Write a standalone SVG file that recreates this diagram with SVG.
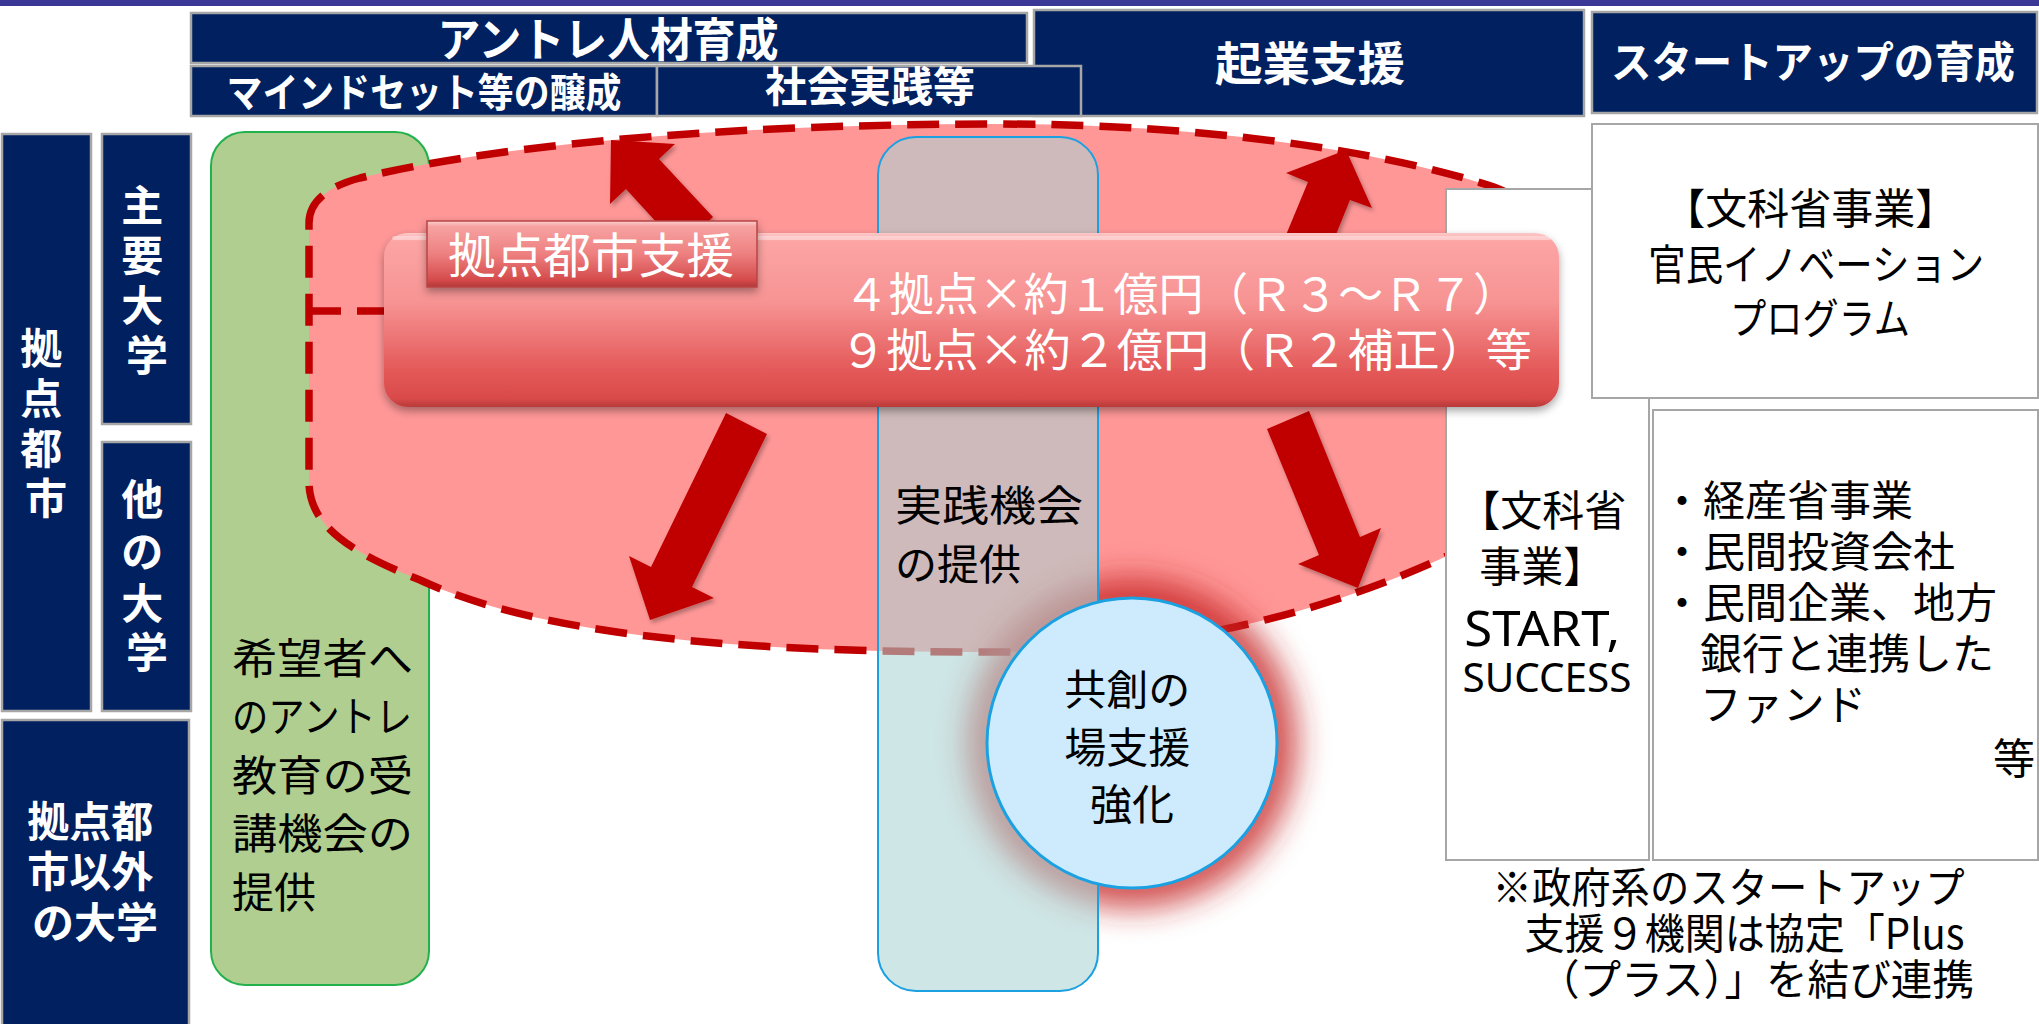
<svg xmlns="http://www.w3.org/2000/svg" width="2039" height="1024" viewBox="0 0 2039 1024">
<style>
.hdr{fill:#002060;stroke:#a6a6a6;stroke-width:2.5}
.ht{fill:#fff;font-family:"Noto Sans CJK JP","Noto Sans CJK SC",sans-serif;font-weight:700;text-anchor:middle}
.st{fill:#fff;font-family:"Noto Sans CJK JP","Noto Sans CJK SC",sans-serif;font-weight:700;font-size:42px;text-anchor:middle}
.box{fill:#fff;stroke:#a6a6a6;stroke-width:2}
.bt{fill:#000;font-family:"Noto Sans CJK JP","Noto Sans CJK SC",sans-serif;font-size:42px}
.wt{fill:#fff;font-family:"Noto Sans CJK JP","Noto Sans CJK SC",sans-serif}
.lat{font-family:"Noto Sans","Liberation Sans",sans-serif}
.arrow{fill:#c00000}
.dash{fill:none;stroke:#c00000;stroke-width:7.5;stroke-dasharray:32 16}
</style>
<defs>
<linearGradient id="mainGrad" x1="0" y1="0" x2="0" y2="1">
<stop offset="0" stop-color="#fdc8c8"/>
<stop offset="0.05" stop-color="#fca4a4"/>
<stop offset="0.4" stop-color="#f79393"/>
<stop offset="0.78" stop-color="#e45a5a"/>
<stop offset="0.95" stop-color="#da4a4a"/>
<stop offset="1" stop-color="#b83a3a"/>
</linearGradient>
<linearGradient id="labelGrad" x1="0" y1="0" x2="0" y2="1">
<stop offset="0" stop-color="#fcd0d0"/>
<stop offset="0.08" stop-color="#f7a2a2"/>
<stop offset="0.5" stop-color="#ee8080"/>
<stop offset="0.9" stop-color="#d44a4a"/>
<stop offset="1" stop-color="#b33838"/>
</linearGradient>
<filter id="glow" x="-50%" y="-50%" width="200%" height="200%">
<feGaussianBlur stdDeviation="15"/>
</filter>
<filter id="shadow" x="-10%" y="-20%" width="120%" height="150%">
<feDropShadow dx="0" dy="4" stdDeviation="4" flood-color="#000" flood-opacity="0.35"/>
</filter>
<filter id="ashadow" x="-20%" y="-20%" width="140%" height="140%">
<feDropShadow dx="2" dy="3" stdDeviation="2" flood-color="#000" flood-opacity="0.3"/>
</filter>
</defs>

<rect x="0" y="0" width="2039" height="1024" fill="#fff"/>
<rect id="topbar" x="0" y="0" width="2039" height="6" fill="#3a3797"/>

<g id="green-box">
<rect x="211" y="132" width="218" height="853" rx="34" fill="#b0ce8f" stroke="#22b14c" stroke-width="2"/>
<text class="bt" font-size="45">
<tspan x="232" y="674" textLength="181" lengthAdjust="spacingAndGlyphs">希望者へ</tspan>
<tspan x="232" y="732" textLength="180" lengthAdjust="spacingAndGlyphs">のアントレ</tspan>
<tspan x="232" y="791" textLength="181" lengthAdjust="spacingAndGlyphs">教育の受</tspan>
<tspan x="232" y="849" textLength="181" lengthAdjust="spacingAndGlyphs">講機会の</tspan>
<tspan x="232" y="908">提供</tspan>
</text>
</g>

<g id="hub-area">
<path d="M309,223 C309,200 330,186 360,178 C520,140 760,124 1000,124 C1200,124 1380,150 1494,187 C1560,210 1600,300 1560,400 C1520,500 1480,540 1447,556 C1330,610 1180,652 1000,652 C800,652 560,645 420,580 C360,556 309,530 309,482 Z" fill="#ff9797"/>
<path class="dash" d="M309,223 C309,200 330,186 360,178 C520,140 760,124 1000,124 C1200,124 1380,150 1494,187 C1560,210 1600,300 1560,400 C1520,500 1480,540 1447,556 C1330,610 1180,652 1000,652 C800,652 560,645 420,580 C360,556 309,530 309,482 Z"/>
</g>

<circle id="glow-ring" cx="1132" cy="743" r="166" fill="#c62828" fill-opacity="0.78" filter="url(#glow)"/>

<g id="practice-column">
<rect x="878" y="137" width="220" height="854" rx="38" fill="#abd4d4" fill-opacity="0.58" stroke="#1ba1e2" stroke-width="2"/>
<text class="bt" font-size="46">
<tspan x="895" y="521" textLength="188" lengthAdjust="spacingAndGlyphs">実践機会</tspan>
<tspan x="895" y="580">の提供</tspan>
</text>
</g>

<g id="connectors">
<line class="dash" x1="309" y1="311" x2="386" y2="311" stroke-width="6"/>
<polygon class="arrow" filter="url(#ashadow)" points="611,140 675,144 659,159 713,217 680,248 626,189 610,204"/>
<polygon class="arrow" filter="url(#ashadow)" points="1346,150 1372,208 1350,200 1324,264 1281,247 1308,182 1286,173"/>
<polygon class="arrow" filter="url(#ashadow)" points="650,620 629,556 651,567 726,413 767,434 692,587 714,598"/>
<polygon class="arrow" filter="url(#ashadow)" points="1358,588 1298,564 1319,555 1267,429 1309,411 1360,537 1381,528"/>
</g>

<g id="start-box">
<rect class="box" x="1446" y="189" width="203" height="671"/>
<text class="bt" text-anchor="middle">
<tspan x="1547" y="526">【文科省</tspan>
<tspan x="1547" y="582">事業】</tspan>
<tspan class="lat" x="1547" y="646" font-size="50" textLength="156" lengthAdjust="spacingAndGlyphs">START,</tspan>
<tspan class="lat" x="1547" y="692" font-size="40" textLength="169" lengthAdjust="spacingAndGlyphs">SUCCESS</tspan>
</text>
</g>

<g id="kanmin-box">
<rect class="box" x="1592" y="124" width="446" height="274"/>
<text class="bt" text-anchor="middle">
<tspan x="1815" y="224" textLength="294" lengthAdjust="spacingAndGlyphs">【文科省事業】</tspan>
<tspan x="1821" y="280" textLength="336" lengthAdjust="spacingAndGlyphs">官民イノベーション</tspan>
<tspan x="1820" y="334" textLength="180" lengthAdjust="spacingAndGlyphs">プログラム</tspan>
</text>
</g>

<g id="private-box">
<rect class="box" x="1653" y="410" width="385" height="450"/>
<text class="bt">
<tspan x="1661" y="516">・経産省事業</tspan>
<tspan x="1661" y="567">・民間投資会社</tspan>
<tspan x="1661" y="618">・民間企業、地方</tspan>
<tspan x="1700" y="669">銀行と連携した</tspan>
<tspan x="1700" y="720" textLength="166" lengthAdjust="spacingAndGlyphs">ファンド</tspan>
<tspan x="1993" y="774">等</tspan>
</text>
</g>

<g id="hub-support">
<rect x="384" y="233" width="1175" height="174" rx="24" fill="url(#mainGrad)" filter="url(#shadow)"/>
<rect x="392" y="236" width="1159" height="4" rx="2" fill="#fff" fill-opacity="0.35"/>
<text class="wt" font-size="45" text-anchor="end">
<tspan x="1528" y="311" textLength="674" lengthAdjust="spacingAndGlyphs">４拠点×約１億円（Ｒ３～Ｒ７）</tspan>
<tspan x="1532" y="367" textLength="692" lengthAdjust="spacingAndGlyphs">９拠点×約２億円（Ｒ２補正）等</tspan>
</text>
</g>

<g id="hub-label">
<rect x="427" y="221" width="330" height="66" fill="url(#labelGrad)" stroke="#b84444" stroke-width="1.5" filter="url(#shadow)"/>
<text class="wt" font-size="48" x="591" y="273" text-anchor="middle" textLength="286" lengthAdjust="spacingAndGlyphs">拠点都市支援</text>
</g>

<g id="cocreation-circle">
<circle cx="1132" cy="743" r="145" fill="#cdebfc" stroke="#1ba1e2" stroke-width="3"/>
<text class="bt" font-size="45" text-anchor="middle">
<tspan x="1132" y="705">共創の</tspan>
<tspan x="1132" y="763">場支援</tspan>
<tspan x="1132" y="820">強化</tspan>
</text>
</g>

<g id="note">
<text class="bt" font-size="40" text-anchor="end">
<tspan x="1974" y="903" textLength="472" lengthAdjust="spacingAndGlyphs">※政府系のスタートアップ</tspan>
<tspan x="1974" y="949" textLength="440" lengthAdjust="spacingAndGlyphs">支援９機関は協定「Plus</tspan>
<tspan x="1974" y="995" textLength="436" lengthAdjust="spacingAndGlyphs">（プラス）」を結び連携</tspan>
</text>
</g>

<g id="header-entre">
<rect class="hdr" x="191" y="13" width="836" height="50"/>
<text class="ht" font-size="46" x="608" y="56" textLength="341" lengthAdjust="spacingAndGlyphs">アントレ人材育成</text>
</g>
<g id="header-kigyo">
<rect class="hdr" x="1034" y="10" width="550" height="106"/>
<text class="ht" font-size="46" x="1310" y="80" textLength="190" lengthAdjust="spacingAndGlyphs">起業支援</text>
</g>
<g id="header-startup">
<rect class="hdr" x="1592" y="12" width="445" height="101"/>
<text class="ht" font-size="43" x="1813" y="78" textLength="404" lengthAdjust="spacingAndGlyphs">スタートアップの育成</text>
</g>
<g id="header-mindset">
<rect class="hdr" x="191" y="66" width="466" height="50"/>
<text class="ht" font-size="40" x="424" y="107" textLength="395" lengthAdjust="spacingAndGlyphs">マインドセット等の醸成</text>
</g>
<g id="header-shakai">
<rect class="hdr" x="657" y="66" width="424" height="50"/>
<text class="ht" font-size="42" x="870" y="102" textLength="210" lengthAdjust="spacingAndGlyphs">社会実践等</text>
</g>

<g id="side-hub">
<rect class="hdr" x="2" y="134" width="89" height="577"/>
<text class="st">
<tspan x="46" y="364">拠</tspan>
<tspan x="46" y="414">点</tspan>
<tspan x="46" y="464">都</tspan>
<tspan x="46" y="514">市</tspan>
</text>
</g>
<g id="side-major">
<rect class="hdr" x="102" y="134" width="89" height="290"/>
<text class="st">
<tspan x="147" y="221">主</tspan>
<tspan x="147" y="271">要</tspan>
<tspan x="147" y="321">大</tspan>
<tspan x="147" y="371">学</tspan>
</text>
</g>
<g id="side-other">
<rect class="hdr" x="102" y="442" width="89" height="269"/>
<text class="st">
<tspan x="147" y="515">他</tspan>
<tspan x="147" y="567">の</tspan>
<tspan x="147" y="619">大</tspan>
<tspan x="147" y="668">学</tspan>
</text>
</g>
<g id="side-outside">
<rect class="hdr" x="2" y="720" width="187" height="310"/>
<text class="st">
<tspan x="95" y="837">拠点都</tspan>
<tspan x="95" y="887">市以外</tspan>
<tspan x="95" y="938">の大学</tspan>
</text>
</g>
</svg>
